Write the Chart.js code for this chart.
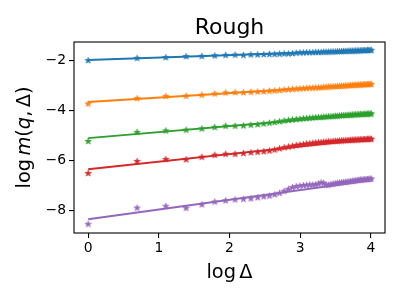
<!DOCTYPE html>
<html>
<head>
<meta charset="utf-8">
<script src="https://cdn.jsdelivr.net/npm/chart.js@4.4.0/dist/chart.umd.min.js"></script>
<style>
  html, body { margin: 0; padding: 0; background: #fff; }
</style>
</head>
<body>
<canvas id="chart" width="400" height="300"></canvas>
<script>
// x positions: log of the lag (Delta = 1..55)
const logDelta = [
  0.000, 0.693, 1.099, 1.386, 1.609, 1.792, 1.946, 2.079, 2.197, 2.303,
  2.398, 2.485, 2.565, 2.639, 2.708, 2.773, 2.833, 2.890, 2.944, 2.996,
  3.045, 3.091, 3.135, 3.178, 3.219, 3.258, 3.296, 3.332, 3.367, 3.401,
  3.434, 3.466, 3.497, 3.526, 3.555, 3.584, 3.611, 3.638, 3.664, 3.689,
  3.714, 3.738, 3.761, 3.784, 3.807, 3.829, 3.850, 3.871, 3.892, 3.912,
  3.932, 3.951, 3.970, 3.989, 4.007
];

// measured log m(q, Delta), one array per q
const seriesBlue = [
  -2.00, -1.91, -1.88, -1.84, -1.83, -1.81, -1.79, -1.78, -1.79, -1.77,
  -1.77, -1.76, -1.75, -1.75, -1.74, -1.73, -1.73, -1.72, -1.70, -1.69,
  -1.69, -1.68, -1.68, -1.68, -1.67, -1.67, -1.67, -1.66, -1.66, -1.66,
  -1.65, -1.65, -1.65, -1.64, -1.64, -1.64, -1.63, -1.63, -1.63, -1.62,
  -1.62, -1.62, -1.62, -1.61, -1.61, -1.61, -1.61, -1.60, -1.60, -1.60,
  -1.60, -1.59, -1.59, -1.59, -1.59
];
const seriesOrange = [
  -3.73, -3.52, -3.43, -3.42, -3.38, -3.33, -3.29, -3.28, -3.28, -3.26,
  -3.25, -3.24, -3.22, -3.21, -3.19, -3.17, -3.16, -3.15, -3.14, -3.13,
  -3.12, -3.11, -3.10, -3.10, -3.09, -3.09, -3.08, -3.07, -3.06, -3.06,
  -3.05, -3.04, -3.04, -3.03, -3.03, -3.02, -3.02, -3.01, -3.01, -3.00,
  -3.00, -2.99, -2.99, -2.98, -2.98, -2.98, -2.97, -2.97, -2.97, -2.96,
  -2.96, -2.96, -2.95, -2.95, -2.95
];
const seriesGreen = [
  -5.23, -4.87, -4.81, -4.78, -4.73, -4.67, -4.62, -4.62, -4.61, -4.58,
  -4.56, -4.53, -4.50, -4.47, -4.44, -4.41, -4.39, -4.37, -4.35, -4.34,
  -4.32, -4.31, -4.30, -4.29, -4.28, -4.27, -4.27, -4.26, -4.25, -4.24,
  -4.24, -4.23, -4.22, -4.22, -4.21, -4.20, -4.20, -4.19, -4.19, -4.18,
  -4.18, -4.17, -4.17, -4.16, -4.16, -4.16, -4.15, -4.15, -4.15, -4.14,
  -4.14, -4.14, -4.13, -4.13, -4.13
];
const seriesRed = [
  -6.51, -6.03, -5.95, -5.96, -5.86, -5.78, -5.74, -5.74, -5.71, -5.68,
  -5.66, -5.64, -5.61, -5.57, -5.52, -5.48, -5.45, -5.42, -5.39, -5.37,
  -5.35, -5.33, -5.32, -5.30, -5.29, -5.28, -5.27, -5.26, -5.25, -5.24,
  -5.24, -5.23, -5.22, -5.22, -5.21, -5.21, -5.20, -5.20, -5.19, -5.19,
  -5.18, -5.18, -5.17, -5.17, -5.17, -5.16, -5.16, -5.16, -5.15, -5.15,
  -5.15, -5.14, -5.14, -5.14, -5.14
];
const seriesPurple = [
  -8.54, -7.89, -7.82, -7.90, -7.76, -7.65, -7.60, -7.56, -7.54, -7.52,
  -7.48, -7.44, -7.41, -7.36, -7.30, -7.22, -7.14, -7.07, -7.03, -7.01,
  -6.99, -6.98, -6.97, -6.97, -6.96, -6.93, -6.88, -6.90, -6.97, -6.98,
  -6.95, -6.93, -6.92, -6.90, -6.89, -6.88, -6.87, -6.86, -6.85, -6.84,
  -6.83, -6.82, -6.81, -6.80, -6.79, -6.78, -6.77, -6.77, -6.76, -6.76,
  -6.75, -6.75, -6.74, -6.74, -6.73
];

// fitted straight lines: value at x = 0 and at the last x
const fitX = [0, 4.007];
const fitBlue = [-1.98, -1.59];
const fitOrange = [-3.66, -2.95];
const fitGreen = [-5.10, -4.14];
const fitRed = [-6.34, -5.13];
const fitPurple = [-8.34, -6.78];

const xTicks = [0, 1, 2, 3, 4];
const yTicks = [-8, -6, -4, -2];

const colors = ['#1f77b4', '#ff7f0e', '#2ca02c', '#d62728', '#9467bd'];
const allSeries = [seriesBlue, seriesOrange, seriesGreen, seriesRed, seriesPurple];
const allFits = [fitBlue, fitOrange, fitGreen, fitRed, fitPurple];

const FONT = "'DejaVu Sans', sans-serif";

// filled five point star like matplotlib's '*' marker
function starCanvas(color, r) {
  const s = Math.ceil(r * 2 + 2);
  const c = document.createElement('canvas');
  c.width = s; c.height = s;
  const g = c.getContext('2d');
  g.fillStyle = color;
  g.strokeStyle = color;
  g.lineWidth = 0.8;
  g.beginPath();
  for (let i = 0; i < 10; i++) {
    const rad = i % 2 ? r * 0.382 : r;
    const a = -Math.PI / 2 + i * Math.PI / 5;
    g.lineTo(s / 2 + rad * Math.cos(a), s / 2 + rad * Math.sin(a));
  }
  g.closePath();
  g.fill();
  g.stroke();
  return c;
}

const datasets = [];
allSeries.forEach((vals, k) => {
  datasets.push({
    data: vals.map((y, i) => ({ x: logDelta[i], y: y })),
    showLine: false,
    pointStyle: starCanvas(colors[k], 3.2),
    pointRadius: 3,
    order: 2
  });
  datasets.push({
    data: fitX.map((x, i) => ({ x: x, y: allFits[k][i] })),
    showLine: true,
    borderColor: colors[k],
    borderWidth: 2,
    pointRadius: 0,
    order: 1
  });
});

// draws text made of upright / italic pieces, centred on x
function richText(ctx, parts, x, y, size) {
  let total = 0;
  parts.forEach(p => {
    ctx.font = (p[1] ? 'italic ' : '') + size + 'px ' + FONT;
    total += p[0] === '' ? size * 0.17 : ctx.measureText(p[0]).width;
  });
  let cx = x - total / 2;
  ctx.textAlign = 'left';
  ctx.textBaseline = 'alphabetic';
  parts.forEach(p => {
    ctx.font = (p[1] ? 'italic ' : '') + size + 'px ' + FONT;
    if (p[0] === '') { cx += size * 0.17; return; }
    ctx.fillText(p[0], cx, y);
    cx += ctx.measureText(p[0]).width;
  });
}

const frameAndText = {
  id: 'frameAndText',
  afterDraw(chart) {
    const ctx = chart.ctx;
    const a = chart.chartArea;
    ctx.save();
    ctx.strokeStyle = '#000';
    ctx.lineWidth = 1.1;
    ctx.strokeRect(a.left, a.top, a.right - a.left, a.bottom - a.top);
    ctx.fillStyle = '#000';
    const mid = (a.left + a.right) / 2;
    ctx.font = '22px ' + FONT;
    ctx.textAlign = 'center';
    ctx.textBaseline = 'alphabetic';
    ctx.fillText('Rough', mid, 34);
    richText(ctx, [['log', false], ['', false], ['Δ', false]], mid, 278, 19.4);
    ctx.translate(30, (a.top + a.bottom) / 2);
    ctx.rotate(-Math.PI / 2);
    richText(ctx, [['log', false], ['', false], ['m', true], ['(', false], ['q', true],
      [',', false], ['', false], ['Δ', false], [')', false]], 0, 0, 19.4);
    ctx.restore();
  }
};

const tickFmt = v => (v < 0 ? '\u2212' + Math.abs(v) : String(v));

new Chart(document.getElementById('chart'), {
  type: 'scatter',
  data: { datasets: datasets },
  options: {
    responsive: false,
    animation: false,
    layout: { padding: { left: 0, top: 42, right: 15, bottom: 0 } },
    plugins: { legend: { display: false }, tooltip: { enabled: false }, title: { display: false } },
    scales: {
      x: {
        type: 'linear',
        min: -0.2,
        max: 4.2,
        afterBuildTicks: s => { s.ticks = xTicks.map(v => ({ value: v })); },
        afterFit: s => { s.height = 67; },
        border: { display: false },
        grid: { drawOnChartArea: false, drawTicks: true, tickLength: 5, color: '#000', lineWidth: 1.1 },
        ticks: { color: '#000', font: { family: FONT, size: 13.9 }, padding: 2, maxRotation: 0, callback: tickFmt }
      },
      y: {
        type: 'linear',
        min: -8.89,
        max: -1.26,
        afterBuildTicks: s => { s.ticks = yTicks.map(v => ({ value: v })); },
        afterFit: s => { s.width = 74; },
        border: { display: false },
        grid: { drawOnChartArea: false, drawTicks: true, tickLength: 5, color: '#000', lineWidth: 1.1 },
        ticks: { color: '#000', font: { family: FONT, size: 13.9 }, padding: 3, callback: tickFmt }
      }
    }
  },
  plugins: [frameAndText]
});
</script>
</body>
</html>
